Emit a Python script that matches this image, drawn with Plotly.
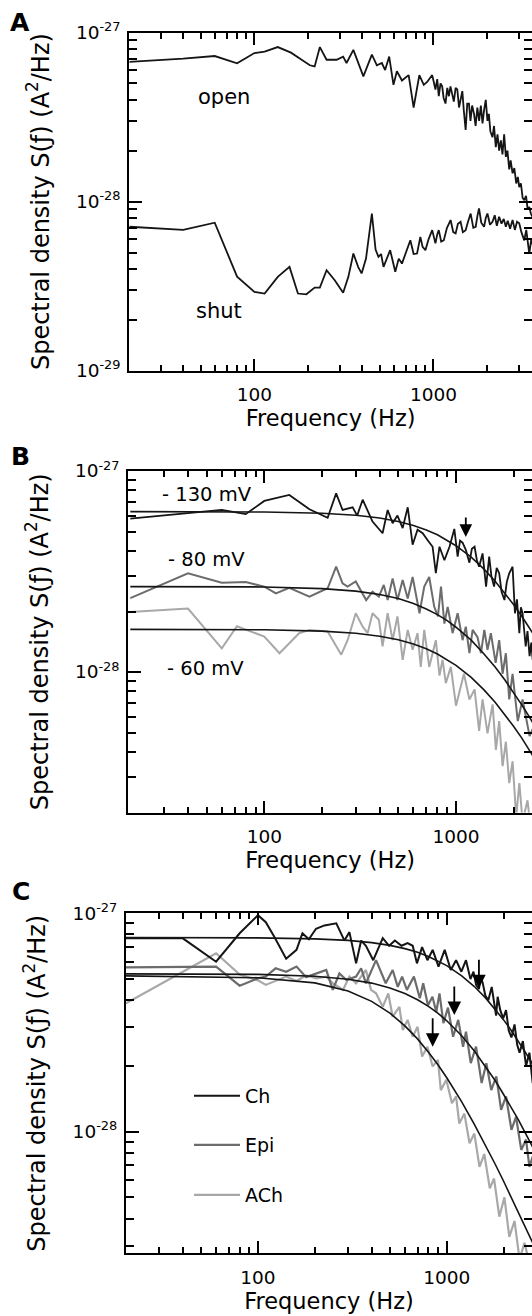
import math
import plotly.graph_objects as go

U = 1e-29  # all values below are in units of 1e-29 A^2/Hz

# ---------------- Panel A ----------------
a_open_f = [20, 40, 60, 80, 100, 114, 135, 160, 180, 204, 217, 232, 253, 288, 313, 327, 357, 406, 453, 483, 515,
            537, 566, 598, 625, 667, 727, 775, 834, 883, 922, 984, 1000, 1026, 1050, 1071, 1095, 1119, 1140, 1168,
            1195, 1220, 1245, 1273, 1300, 1330, 1359, 1390, 1418, 1450, 1480, 1513, 1545, 1579, 1610, 1645, 1685,
            1720, 1759, 1800, 1840, 1880, 1920, 1960, 2003, 2040, 2080, 2137, 2180, 2230, 2280, 2328, 2380, 2430,
            2483, 2538, 2590, 2650, 2700, 2767, 2830, 2900, 2960, 3015, 3080, 3150, 3216, 3290, 3360, 3430, 3500, 3600, 3700]
a_open_v = [67, 70, 72.6, 65.8, 75.6, 77, 82, 76, 70, 64, 63, 82, 69, 69, 72, 66, 79, 55, 74, 64, 66,
            60, 72, 49, 59, 52, 56, 36, 56, 49, 51, 56, 52, 46, 53, 42, 50, 48, 41, 38,
            47, 42, 48, 44, 39, 47, 46, 36, 40, 45, 34, 26.5, 38, 38, 30, 37, 33,
            28, 36, 30, 37, 29, 35, 40, 30, 33, 26, 24, 28, 21, 25, 20, 23, 19,
            25, 18.4, 20, 15.5, 17.5, 14.7, 15.8, 12.8, 14, 12.2, 12.8, 10.5, 10.2, 10.8, 9, 9.3, 8.5, 8, 8.4]

a_shut_f = [20, 40, 60, 80, 100, 114, 135, 157, 175, 195, 217, 232, 253, 281, 313, 335, 357, 380, 397, 420, 453,
            475, 493, 510, 526, 550, 573, 612, 640, 667, 700, 743, 775, 810, 845, 870, 902, 940, 984, 1026, 1050,
            1071, 1105, 1143, 1190, 1247, 1290, 1330, 1370, 1418, 1460, 1513, 1560, 1614, 1670, 1722, 1760, 1797,
            1850, 1918, 1960, 2003, 2070, 2137, 2200, 2260, 2328, 2400, 2470, 2538, 2600, 2680, 2767, 2850, 2930,
            3015, 3100, 3216, 3300, 3430, 3520, 3600, 3700]
a_shut_v = [7.1, 6.8, 7.5, 3.6, 2.92, 2.86, 3.59, 4.11, 2.86, 2.83, 3.1, 3.1, 3.93, 3.43, 2.89, 3.6, 4.93, 4.1, 3.76, 4.6, 8.5,
            5.2, 4.71, 4.9, 4.11, 4.6, 5.16, 3.85, 4.6, 4.3, 5.0, 5.91, 4.9, 4.93, 6.19, 5.4, 5.16, 6.0, 6.78, 5.66, 6.4,
            6.78, 5.8, 5.91, 7.0, 7.78, 6.6, 6.49, 7.4, 7.6, 6.6, 6.78, 7.6, 8.5, 7.0, 7.1, 8.2, 9.12,
            7.5, 7.1, 8.0, 8.5, 7.3, 7.6, 8.3, 7.2, 8.13, 7.4, 7.9, 7.1, 7.7, 6.9, 7.78, 6.8, 7.6,
            7.44, 6.6, 5.9, 6.8, 4.93, 6.0, 5.5, 5.8]

# ---------------- Panel B ----------------
b130_f = [20, 60, 80, 100, 135, 172, 214, 237, 256, 289, 305, 326, 367, 414, 440, 467, 495, 527, 560, 594, 630,
          670, 710, 755, 785, 820, 870, 925, 980, 1020, 1050, 1082, 1125, 1175, 1210, 1250, 1285, 1320, 1376, 1435,
          1490, 1530, 1580, 1630, 1680, 1730, 1790, 1840, 1895, 1973, 2030, 2080, 2140, 2180, 2225, 2270, 2310,
          2360, 2420, 2470, 2510, 2560, 2650]
b130_v = [58, 64, 61, 71, 76, 64.5, 58.5, 77.4, 64, 66, 60, 72, 56, 49, 64, 55, 60, 52, 66, 43, 51,
          49, 45.4, 42, 31, 42, 36, 42, 51.5, 37.5, 45, 44, 40.5, 35, 41, 42, 36, 33.4, 38.9, 26.6,
          37.5, 30, 26.6, 33, 31, 25, 22.8, 28, 31, 33.4, 19.6, 23, 15.6, 21, 19.6, 15, 13.4,
          16, 12, 14, 11.5, 12, 10.5]

b80_f = [20, 40, 60, 80, 100, 115, 135, 172, 214, 237, 256, 272, 300, 340, 367, 396, 420, 440, 467, 495, 527,
         560, 594, 645, 683, 725, 770, 805, 835, 870, 905, 960, 1020, 1082, 1125, 1175, 1221, 1295, 1350, 1405,
         1460, 1520, 1610, 1680, 1750, 1820, 1895, 1973, 2100, 2225, 2420, 2510, 2560, 2650]
b80_v = [23.3, 31, 27.8, 28, 26.6, 24.6, 26.2, 23.7, 26.1, 33.4, 27.6, 26.6, 28.2, 22.8, 25.1, 23.7, 27.1, 22.8, 29.2, 22.8, 28.7,
         23.2, 29.7, 19.6, 26.6, 29.7, 21.1, 18.9, 26.6, 17.4, 21.1, 15.6, 19.6, 14.4, 16.8, 12.4, 16.2, 14.9, 12.4, 16.2,
         12.9, 15.6, 11.1, 14.4, 9.8, 12.4, 7.3, 9.8, 5.7, 7.3, 4.8, 5.2, 4.5, 4.2]

b60_f = [20, 40, 60, 72, 100, 120, 135, 152, 172, 214, 252, 272, 300, 326, 346, 367, 396, 414, 440, 467, 495,
         527, 560, 594, 630, 655, 683, 725, 755, 785, 820, 851, 885, 940, 1000, 1040, 1100, 1175, 1250, 1320,
         1376, 1460, 1552, 1615, 1680, 1750, 1820, 1895, 1973, 2060, 2140, 2225, 2360, 2450, 2510, 2650]
b60_v = [19.9, 20.7, 13.1, 16.9, 15.0, 12.4, 13.9, 15.6, 16.2, 15.9, 12.2, 14.4, 19.6, 16.8, 15.6, 19.6, 18.2, 13.4, 19.6, 14.4, 18.9,
         11.5, 16.2, 12.9, 15.6, 10.6, 16.2, 10.6, 12.4, 14.4, 9.6, 11.5, 8.8, 10.6, 6.8, 7.8, 9.8, 7.3, 8.2, 5.1,
         7.3, 4.95, 6.9, 4.1, 5.7, 3.4, 4.5, 2.8, 3.6, 1.9, 2.8, 1.8, 2.3, 1.7, 1.9, 1.6]

# fitted Lorentzian curves
fit_f = [20, 100, 200, 300, 400, 500, 600, 700, 800, 900, 1000, 1200, 1400, 1600, 1800, 2000, 2200, 2400, 2600, 2800, 3000]
b130_fit = [62.8, 62.5, 61.6, 60.2, 58.4, 56.1, 53.6, 50.9, 48.2, 45.3, 42.5, 37.3, 32.5, 28.3, 24.7, 21.6, 19.0, 16.8, 14.9, 13.3, 11.9]
b80_fit = [26.6, 26.5, 26.0, 25.25, 24.3, 23.2, 21.9, 20.6, 19.3, 18.0, 16.7, 14.4, 12.3, 10.6, 9.12, 7.9, 6.88, 6.03, 5.32, 4.72, 4.21]
b60_fit = [16.3, 16.22, 15.97, 15.58, 15.07, 14.46, 13.77, 13.04, 12.29, 11.53, 10.79, 9.4, 8.15, 7.07, 6.14, 5.36, 4.7, 4.14, 3.66, 3.26, 2.91]

b_labels = ["- 130 mV", "- 80 mV", "- 60 mV"]
b_arrow_f = [1125]
b_arrow_v = [47]

# ---------------- Panel C ----------------
c_ch_f = [20, 40, 60, 80, 100, 110, 122, 141, 160, 172, 186, 203, 225, 260, 287, 305, 331, 352, 373, 408, 458,
          495, 531, 576, 620, 660, 695, 740, 790, 842, 904, 975, 1050, 1120, 1195, 1264, 1335, 1385, 1430, 1480,
          1515, 1550, 1600, 1660, 1730, 1780, 1825, 1860, 1920, 1990, 2060, 2130, 2200, 2285, 2360, 2430, 2530,
          2630, 2740, 2852, 2950, 3050]
c_ch_v = [76.8, 76.8, 60, 81, 98, 91, 78, 62, 68, 81, 76, 85, 88, 90, 75, 82, 59, 75, 71, 61, 77,
          71, 75, 71, 73, 71, 59, 70, 61, 68, 57, 68, 55, 61, 54, 61, 50, 54, 47, 45,
          51, 48, 42, 40, 46, 38, 34, 41.5, 36, 33, 36, 29, 27, 31, 25, 23, 26,
          20, 23, 16.7, 18, 15]

c_epi_f = [20, 40, 60, 80, 100, 110, 124, 141, 160, 180, 203, 230, 249, 270, 294, 331, 352, 373, 422, 450, 475,
           517, 550, 580, 615, 670, 720, 750, 795, 840, 880, 915, 960, 1015, 1080, 1150, 1220, 1264, 1340, 1429,
           1530, 1620, 1720, 1830, 1940, 2060, 2200, 2327, 2480, 2630, 2740, 2852, 2950, 3050]
c_epi_v = [56.5, 57, 57, 46.6, 50.4, 51.3, 56, 54, 57, 51, 53, 55, 44.6, 53, 49.5, 51.3, 56, 47.8, 61, 53, 47.8,
           55, 46, 51.3, 44.6, 51.3, 40.8, 47.8, 37.9, 41.5, 35.3, 43, 31.4, 37, 27.2, 32.5, 24.5, 28.7, 20.6, 24.5,
           16.7, 20.6, 15.5, 17.9, 12.6, 14.5, 10.2, 11.7, 8.25, 9.2, 6.9, 7.7, 7, 6.5]

c_ach_f = [20, 60, 80, 100, 110, 124, 141, 160, 180, 203, 230, 249, 282, 305, 331, 373, 397, 422, 458, 490, 517,
           561, 585, 620, 660, 700, 740, 790, 842, 898, 930, 995, 1065, 1120, 1165, 1240, 1320, 1400, 1490, 1580,
           1690, 1780, 1898, 2020, 2144, 2285, 2430, 2580, 2740, 2852, 2950, 3050]
c_ach_v = [38.7, 65.6, 52.4, 49.3, 47, 49, 51.3, 49, 52, 50.4, 51.3, 47.8, 44.6, 51.3, 47.8, 55, 44.6, 43, 37.3, 43, 33.6,
           37.3, 29.2, 32.5, 27.2, 30.2, 22.1, 24.5, 19.9, 21.3, 15.5, 17.3, 13.5, 14.5, 10.9, 12.1, 8.85, 9.8, 6.9, 7.9,
           5.5, 6.1, 4.08, 5.0, 3.3, 3.9, 2.6, 3.1, 2.5, 2.7, 2.6, 2.5]

c_ch_fit = [77.5, 77.2, 76.4, 75.2, 73.4, 71.3, 68.9, 66.3, 63.4, 60.5, 57.6, 51.7, 46.2, 41.1, 36.5, 32.5, 29.0, 25.9, 23.2, 20.9, 18.8]
c_epi_fit = [52.8, 52.5, 51.5, 49.9, 47.9, 45.5, 42.9, 40.2, 37.5, 34.8, 32.2, 27.5, 23.4, 20.0, 17.2, 14.8, 12.9, 11.3, 9.91, 8.77, 7.81]
c_ach_fit = [51.7, 50.7, 48.0, 44.05, 39.5, 34.9, 30.5, 26.6, 23.1, 20.2, 17.65, 13.7, 10.8, 8.71, 7.13, 5.93, 5.0, 4.27, 3.68, 3.21, 2.82]

c_names = ["Ch", "Epi", "ACh"]
c_arrow_f = [1480, 1096, 842]
c_arrow_v = [45.4, 34.2, 24.5]

x_major = [100, 1000]
x_major_text = ["100", "1000"]
x_minor = [30, 40, 50, 60, 70, 80, 90, 200, 300, 400, 500, 600, 700, 800, 900, 2000, 3000]
y_major = [1e-29, 1e-28, 1e-27]
y_major_text = ["10<sup>-29</sup>", "10<sup>-28</sup>", "10<sup>-27</sup>"]
y_minor = [k * 1e-29 for k in range(2, 10)] + [k * 1e-28 for k in range(2, 10)]

BLACK = "#151515"
DARK = "#6c6c6c"
LIGHT = "#a8a8a8"
FONT = "DejaVu Sans, sans-serif"

W, H = 532, 1316


def px2x(p):
    return p / W


def px2y(p):
    return 1 - p / H


fig = go.Figure()


def add(f, v, color, width, k, legend=None, name=None):
    fig.add_trace(go.Scatter(
        x=f, y=[val * U for val in v], mode="lines",
        line=dict(color=color, width=width),
        xaxis="x" if k == 1 else f"x{k}", yaxis="y" if k == 1 else f"y{k}",
        showlegend=legend is not None, legend=legend if legend else "legend", name=name, hoverinfo="skip"))


# Panel A
add(a_open_f, a_open_v, BLACK, 1.8, 1)
add(a_shut_f, a_shut_v, BLACK, 1.8, 1)
# Panel B
add(b80_f, b80_v, DARK, 2, 2)
add(b60_f, b60_v, LIGHT, 2, 2)
add(b130_f, b130_v, BLACK, 1.8, 2)
for fv in (b130_fit, b80_fit, b60_fit):
    add(fit_f, fv, BLACK, 1.6, 2)
# Panel C (data traces carry the legend entries)
add(c_ach_f, c_ach_v, LIGHT, 2.2, 3, legend="legend3", name=c_names[2])
add(c_epi_f, c_epi_v, DARK, 2.2, 3, legend="legend2", name=c_names[1])
add(c_ch_f, c_ch_v, BLACK, 2, 3, legend="legend", name=c_names[0])
for fv in (c_ch_fit, c_epi_fit, c_ach_fit):
    add(fit_f, fv, BLACK, 1.6, 3)

RIGHT_PX = 532  # right frame sits at the page edge (cropped in the original)
panels = [
    # (left px, top px, bottom px, xrange log, yrange log)
    (129.3, 32.5, 370.7, [1.301, 2 + (RIGHT_PX - 256) / 178], [-29, -27]),
    (128.3, 471.0, 812.5, [1.2906, 2 + (RIGHT_PX - 264.3) / 191.7], [math.log10(2e-29), -27]),
    (126.0, 913.3, 1253.3, [1.301, 1.301 + (RIGHT_PX - 126) / 188.8], [-28.557, -27]),
]

for i, (left, top, bot, xr, yr) in enumerate(panels, start=1):
    xa = dict(
        type="log", range=xr, domain=[px2x(left), px2x(RIGHT_PX)], automargin=False,
        anchor="y" if i == 1 else f"y{i}",
        showline=True, linecolor="black", linewidth=2, mirror="ticks",
        ticks="inside", ticklen=12, tickwidth=1.5, tickcolor="black",
        tickvals=x_major, ticktext=x_major_text,
        minor=dict(ticks="inside", ticklen=6, tickwidth=1.5, tickcolor="black", tickvals=x_minor, showgrid=False),
        showgrid=False, zeroline=False, ticklabelstandoff=6,
        tickfont=dict(family=FONT, size=18.5, color="black"),
        title=dict(text="Frequency (Hz)", font=dict(family=FONT, size=22.5, color="black"), standoff=0),
    )
    ya = dict(
        type="log", range=yr, domain=[px2y(bot), px2y(top)], automargin=False,
        anchor="x" if i == 1 else f"x{i}",
        showline=True, linecolor="black", linewidth=2, mirror="ticks",
        ticks="inside", ticklen=13, tickwidth=1.5, tickcolor="black",
        tickvals=y_major, ticktext=y_major_text,
        minor=dict(ticks="inside", ticklen=8, tickwidth=1.5, tickcolor="black", tickvals=y_minor, showgrid=False),
        showgrid=False, zeroline=False, ticklabelstandoff=3,
        tickfont=dict(family=FONT, size=18.5, color="black"),
        title=dict(text="Spectral density S(ƒ) (A<sup>2</sup>/Hz)", font=dict(family=FONT, size=24, color="black"),
                   standoff=20),
    )
    fig.update_layout(**{("xaxis" if i == 1 else f"xaxis{i}"): xa, ("yaxis" if i == 1 else f"yaxis{i}"): ya})

annotations = []
centered = dict(xref="paper", yref="paper", showarrow=False, xanchor="center", yanchor="middle")
# panel letters
for letter, (lx, ly) in zip(["A", "B", "C"], [(20, 22), (20, 456), (21, 891)]):
    annotations.append(dict(text=f"<b>{letter}</b>", x=px2x(lx), y=px2y(ly),
                            font=dict(family=FONT, size=25, color="black"), **centered))
# panel A labels
for txt, (lx, ly) in zip(["open", "shut"], [(224, 97), (219, 311)]):
    annotations.append(dict(text=txt, x=px2x(lx), y=px2y(ly),
                            font=dict(family=FONT, size=21, color="black"), **centered))
# panel B labels
for txt, (lx, ly) in zip(b_labels, [(207, 495), (206, 560), (205, 668)]):
    annotations.append(dict(text=txt, x=px2x(lx), y=px2y(ly),
                            font=dict(family=FONT, size=19.5, color="black"), **centered))
# arrows
for f, v in zip(b_arrow_f, b_arrow_v):
    annotations.append(dict(x=math.log10(f), y=math.log10(v * U), xref="x2", yref="y2", text="", showarrow=True,
                            arrowhead=2, arrowsize=1.4, arrowwidth=1.8, arrowcolor="black", ax=0, ay=-21))
for f, v in zip(c_arrow_f, c_arrow_v):
    annotations.append(dict(x=math.log10(f), y=math.log10(v * U), xref="x3", yref="y3", text="", showarrow=True,
                            arrowhead=2, arrowsize=1.5, arrowwidth=1.8, arrowcolor="black", ax=0, ay=-30))

leg_common = dict(xanchor="left", yanchor="middle", bgcolor="rgba(0,0,0,0)", borderwidth=0,
                  font=dict(family=FONT, size=19, color="black"), itemwidth=46)
fig.update_layout(
    template="none",
    width=W, height=H, margin=dict(l=0, r=0, t=0, b=0, autoexpand=False),
    paper_bgcolor="white", plot_bgcolor="white",
    font=dict(family=FONT, color="black"),
    showlegend=True,
    annotations=annotations,
    legend=dict(x=px2x(189), y=px2y(1096), **leg_common),
    legend2=dict(x=px2x(189), y=px2y(1145), **leg_common),
    legend3=dict(x=px2x(189), y=px2y(1195), **leg_common),
)

# place the figure flush with the page corner (no default body margin / scrollbars)
fig.write_html("out.html", config={"displayModeBar": False},
               post_script="document.body.style.margin='0';document.body.style.overflow='hidden';")
